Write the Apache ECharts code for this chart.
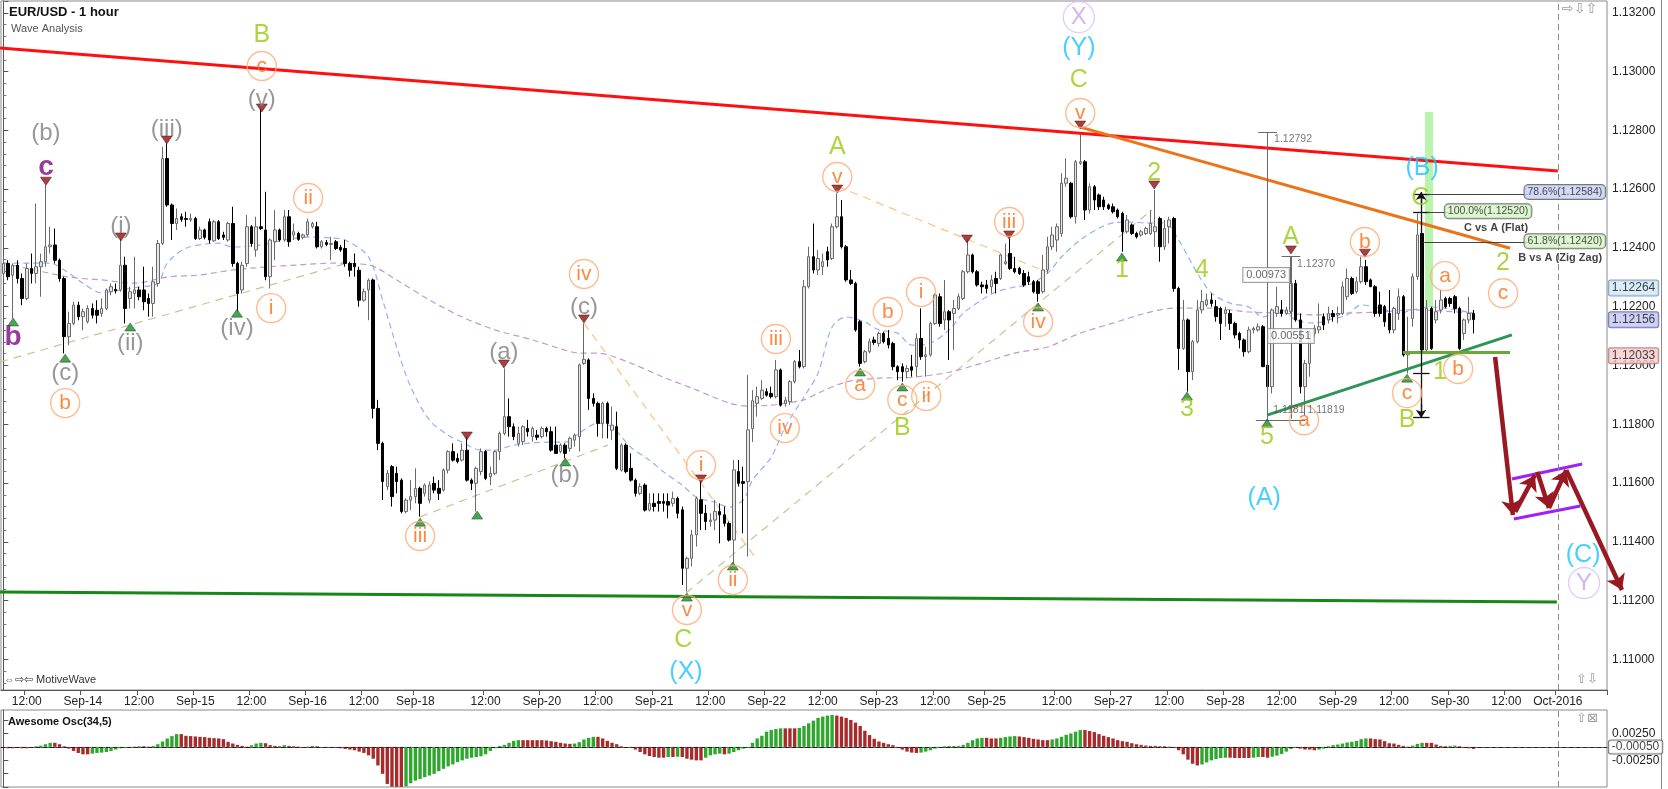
<!DOCTYPE html>
<html><head><meta charset="utf-8">
<script src="https://cdn.jsdelivr.net/npm/echarts/dist/echarts.min.js"></script>
<style>html,body{margin:0;padding:0;background:#fff}#c{width:1668px;height:789px}</style>
</head><body><div id="c"></div>
<script>
// ---------- time axis ----------
const sessions = [['09-13',7,23],['09-14',0,23],['09-15',0,23],['09-16',0,22],['09-18',21,23],['09-19',0,23],['09-20',0,23],['09-21',0,23],['09-22',0,23],['09-23',0,22],['09-25',21,23],['09-26',0,23],['09-27',0,23],['09-28',0,23],['09-29',0,23],['09-30',0,22],['10-02',21,23],['10-03',0,7]];
const tickLabels = [['09-13 12','12:00'],['09-14 00','Sep-14'],['09-14 12','12:00'],['09-15 00','Sep-15'],['09-15 12','12:00'],['09-16 00','Sep-16'],['09-16 12','12:00'],['09-18 21','Sep-18'],['09-19 12','12:00'],['09-20 00','Sep-20'],['09-20 12','12:00'],['09-21 00','Sep-21'],['09-21 12','12:00'],['09-22 00','Sep-22'],['09-22 12','12:00'],['09-23 00','Sep-23'],['09-23 12','12:00'],['09-25 21','Sep-25'],['09-26 12','12:00'],['09-27 00','Sep-27'],['09-27 12','12:00'],['09-28 00','Sep-28'],['09-28 12','12:00'],['09-29 00','Sep-29'],['09-29 12','12:00'],['09-30 00','Sep-30'],['09-30 12','12:00'],['10-02 21','Oct-2016']];

// ---------- EUR/USD hourly candles [open, close, low, high] ----------
const candles = [
[1.12313,1.12347,1.12296,1.12370],[1.12347,1.12302,1.12290,1.12358],[1.12307,1.12341,1.12160,1.12347],[1.12341,1.12296,1.12279,1.12358],[1.12296,1.12228,1.12205,1.12313],
[1.12228,1.12330,1.12222,1.12347],[1.12330,1.12313,1.12279,1.12381],[1.12313,1.12336,1.12279,1.12551],[1.12336,1.12353,1.12234,1.12381],[1.12353,1.12404,1.12336,1.12614],
[1.12404,1.12410,1.12381,1.12472],[1.12410,1.12358,1.12347,1.12466],[1.12358,1.12296,1.12285,1.12364],[1.12296,1.12098,1.12041,1.12302],[1.12098,1.12143,1.12069,1.12183],
[1.12143,1.12205,1.12137,1.12217],[1.12205,1.12166,1.12154,1.12217],[1.12166,1.12183,1.12120,1.12194],[1.12149,1.12194,1.12143,1.12205],[1.12194,1.12171,1.12160,1.12211],
[1.12188,1.12171,1.12143,1.12222],[1.12177,1.12194,1.12166,1.12228],[1.12194,1.12257,1.12188,1.12262],[1.12251,1.12268,1.12239,1.12279],[1.12259,1.12254,1.12245,1.12279],
[1.12257,1.12341,1.12251,1.12432],[1.12341,1.12194,1.12143,1.12370],[1.12228,1.12251,1.12194,1.12268],[1.12245,1.12257,1.12194,1.12370],[1.12257,1.12234,1.12222,1.12268],
[1.12257,1.12217,1.12188,1.12336],[1.12228,1.12211,1.12166,1.12245],[1.12211,1.12285,1.12166,1.12336],[1.12279,1.12415,1.12268,1.12427],[1.12415,1.12704,1.12410,1.12744],
[1.12704,1.12546,1.12540,1.12755],[1.12546,1.12483,1.12427,1.12551],[1.12483,1.12500,1.12461,1.12534],[1.12506,1.12497,1.12489,1.12517],[1.12500,1.12497,1.12472,1.12523],
[1.12495,1.12500,1.12489,1.12517],[1.12500,1.12432,1.12427,1.12506],[1.12432,1.12461,1.12427,1.12472],[1.12461,1.12436,1.12429,1.12466],[1.12489,1.12427,1.12415,1.12500],
[1.12424,1.12489,1.12421,1.12495],[1.12489,1.12432,1.12427,1.12495],[1.12444,1.12436,1.12427,1.12455],[1.12427,1.12483,1.12421,1.12489],[1.12483,1.12347,1.12336,1.12540],
[1.12347,1.12245,1.12183,1.12353],[1.12257,1.12341,1.12245,1.12353],[1.12347,1.12472,1.12336,1.12512],[1.12472,1.12415,1.12404,1.12478],[1.12393,1.12472,1.12370,1.12506],
[1.12472,1.12466,1.12461,1.12874],[1.12461,1.12302,1.12290,1.12591],[1.12302,1.12427,1.12262,1.12432],[1.12421,1.12461,1.12358,1.12529],[1.12461,1.12427,1.12421,1.12466],
[1.12427,1.12506,1.12421,1.12529],[1.12506,1.12421,1.12404,1.12529],[1.12444,1.12455,1.12427,1.12483],[1.12449,1.12429,1.12424,1.12455],[1.12436,1.12444,1.12429,1.12449],
[1.12444,1.12489,1.12438,1.12500],[1.12472,1.12483,1.12466,1.12489],[1.12472,1.12404,1.12398,1.12489],[1.12404,1.12421,1.12398,1.12427],[1.12418,1.12412,1.12406,1.12427],
[1.12412,1.12415,1.12358,1.12438],[1.12421,1.12398,1.12393,1.12427],[1.12402,1.12393,1.12387,1.12410],[1.12398,1.12347,1.12336,1.12427],[1.12347,1.12324,1.12302,1.12353],
[1.12347,1.12336,1.12302,1.12381],[1.12324,1.12222,1.12200,1.12336],[1.12222,1.12251,1.12217,1.12262],[1.12257,1.12290,1.12154,1.12296],
[1.12291,1.11854,1.11820,1.12296],[1.11854,1.11735,1.11712,1.11883],[1.11735,1.11605,1.11542,1.11741],[1.11588,1.11633,1.11576,1.11644],[1.11656,1.11554,1.11520,1.11661],
[1.11633,1.11605,1.11565,1.11656],[1.11610,1.11503,1.11497,1.11616],[1.11503,1.11542,1.11497,1.11548],[1.11542,1.11554,1.11508,1.11610],[1.11554,1.11582,1.11531,1.11650],
[1.11582,1.11531,1.11486,1.11588],[1.11565,1.11593,1.11554,1.11599],[1.11542,1.11593,1.11531,1.11605],[1.11599,1.11576,1.11565,1.11622],[1.11582,1.11565,1.11542,1.11610],
[1.11576,1.11644,1.11571,1.11650],[1.11644,1.11707,1.11633,1.11712],[1.11707,1.11678,1.11673,1.11735],[1.11684,1.11673,1.11667,1.11701],[1.11678,1.11712,1.11673,1.11735],
[1.11712,1.11610,1.11605,1.11758],[1.11610,1.11599,1.11576,1.11616],[1.11599,1.11650,1.11503,1.11656],[1.11639,1.11707,1.11627,1.11718],[1.11707,1.11616,1.11610,1.11712],
[1.11622,1.11633,1.11593,1.11656],[1.11633,1.11707,1.11627,1.11712],[1.11707,1.11769,1.11678,1.11775],[1.11769,1.11826,1.11763,1.11990],[1.11826,1.11792,1.11758,1.11888],
[1.11792,1.11758,1.11746,1.11803],[1.11735,1.11769,1.11724,1.11792],[1.11741,1.11792,1.11729,1.11797],[1.11786,1.11775,1.11758,1.11815],[1.11758,1.11786,1.11741,1.11792],
[1.11763,1.11756,1.11746,1.11780],[1.11758,1.11786,1.11752,1.11792],[1.11786,1.11775,1.11758,1.11792],[1.11775,1.11712,1.11707,1.11792],[1.11729,1.11701,1.11701,1.11792],
[1.11707,1.11729,1.11701,1.11735],[1.11729,1.11701,1.11684,1.11735],[1.11718,1.11752,1.11707,1.11758],[1.11746,1.11763,1.11724,1.11769],[1.11758,1.12002,1.11707,1.12007],
[1.12007,1.12021,1.12002,1.12143],[1.12019,1.11888,1.11849,1.12024],[1.11888,1.11871,1.11860,1.11905],[1.11871,1.11803,1.11758,1.11877],[1.11803,1.11871,1.11752,1.11877],
[1.11871,1.11803,1.11752,1.11877],[1.11780,1.11797,1.11746,1.11860],[1.11792,1.11650,1.11644,1.11843],[1.11644,1.11729,1.11639,1.11735],[1.11729,1.11639,1.11633,1.11735],
[1.11650,1.11610,1.11605,1.11701],[1.11610,1.11565,1.11554,1.11616],[1.11565,1.11588,1.11559,1.11599],[1.11593,1.11508,1.11503,1.11599],[1.11508,1.11531,1.11503,1.11565],
[1.11531,1.11520,1.11503,1.11565],[1.11537,1.11531,1.11503,1.11565],[1.11537,1.11531,1.11503,1.11565],[1.11537,1.11525,1.11480,1.11565],[1.11531,1.11548,1.11520,1.11571],[1.11548,1.11497,1.11480,1.11554],
[1.11509,1.11310,1.11253,1.11520],[1.11310,1.11344,1.11231,1.11350],[1.11344,1.11424,1.11316,1.11441],[1.11424,1.11548,1.11384,1.11554],[1.11543,1.11497,1.11440,1.11605],
[1.11497,1.11469,1.11440,1.11526],[1.11469,1.11474,1.11452,1.11497],[1.11474,1.11503,1.11440,1.11543],[1.11503,1.11492,1.11395,1.11531],[1.11492,1.11463,1.11452,1.11520],
[1.11463,1.11406,1.11401,1.11469],[1.11406,1.11645,1.11327,1.11679],[1.11639,1.11599,1.11588,1.11679],[1.11605,1.11599,1.11429,1.11656],[1.11605,1.11781,1.11350,1.11968],
[1.11785,1.11880,1.11740,1.11916],[1.11871,1.11894,1.11826,1.11928],[1.11888,1.11916,1.11882,1.11950],[1.11911,1.11899,1.11894,1.11922],[1.11905,1.11894,1.11888,1.11928],
[1.11894,1.11985,1.11888,1.12019],[1.11985,1.11865,1.11860,1.11990],[1.11871,1.11882,1.11860,1.11894],[1.11877,1.11945,1.11865,1.11950],[1.11945,1.12013,1.11939,1.12019],
[1.12013,1.11996,1.11990,1.12053],[1.11996,1.12268,1.11990,1.12291],[1.12268,1.12370,1.12262,1.12404],[1.12370,1.12325,1.12313,1.12483],[1.12325,1.12364,1.12308,1.12393],
[1.12336,1.12353,1.12308,1.12381],[1.12387,1.12359,1.12336,1.12404],[1.12364,1.12472,1.12359,1.12483],[1.12472,1.12506,1.12466,1.12585],[1.12506,1.12404,1.12398,1.12563],
[1.12404,1.12291,1.12285,1.12410],[1.12291,1.12279,1.12274,1.12325],[1.12279,1.12121,1.12115,1.12285],[1.12149,1.12007,1.11996,1.12155],[1.12013,1.12047,1.12007,1.12053],
[1.12047,1.12081,1.12041,1.12092],[1.12087,1.12078,1.12070,1.12098],[1.12075,1.12109,1.12064,1.12115],[1.12109,1.12081,1.12075,1.12115],[1.12092,1.12070,1.12058,1.12121],
[1.12075,1.11996,1.11984,1.12081],[1.11996,1.11979,1.11950,1.12001],[1.11996,1.11979,1.11945,1.12007],[1.11979,1.11990,1.11956,1.12001],[1.11996,1.11984,1.11962,1.12036],
[1.11996,1.12092,1.11962,1.12109],[1.12092,1.12030,1.12019,1.12194],[1.12030,1.12036,1.11962,1.12064],[1.12036,1.12143,1.12030,1.12149],[1.12143,1.12240,1.12138,1.12245],
[1.12234,1.12143,1.12132,1.12245],[1.12155,1.12183,1.12121,1.12291],[1.12183,1.12155,1.12019,1.12189],[1.12177,1.12194,1.12053,1.12223],[1.12194,1.12234,1.12189,1.12245],
[1.12228,1.12319,1.12223,1.12325],[1.12319,1.12376,1.12313,1.12427],[1.12376,1.12319,1.12313,1.12381],[1.12319,1.12274,1.12268,1.12325],[1.12274,1.12268,1.12245,1.12285],
[1.12274,1.12262,1.12245,1.12291],[1.12268,1.12291,1.12245,1.12308],[1.12296,1.12279,1.12245,1.12319],[1.12296,1.12376,1.12291,1.12381],[1.12347,1.12353,1.12342,1.12415],
[1.12381,1.12330,1.12325,1.12432],[1.12330,1.12319,1.12313,1.12370],[1.12330,1.12313,1.12308,1.12336],[1.12313,1.12274,1.12268,1.12325],[1.12302,1.12285,1.12274,1.12319],
[1.12285,1.12251,1.12245,1.12291],[1.12285,1.12245,1.12217,1.12291],[1.12251,1.12325,1.12245,1.12376],[1.12325,1.12404,1.12313,1.12438],[1.12404,1.12444,1.12393,1.12472],
[1.12427,1.12472,1.12387,1.12483],[1.12449,1.12620,1.12438,1.12654],[1.12620,1.12637,1.12608,1.12705],[1.12620,1.12506,1.12500,1.12625],[1.12506,1.12693,1.12483,1.12699],
[1.12688,1.12693,1.12682,1.12792],
[1.12693,1.12529,1.12495,1.12699],[1.12529,1.12608,1.12517,1.12620],[1.12608,1.12563,1.12529,1.12614],[1.12580,1.12540,1.12529,1.12585],[1.12563,1.12540,1.12529,1.12574],
[1.12546,1.12534,1.12529,1.12551],[1.12540,1.12523,1.12517,1.12551],[1.12529,1.12506,1.12500,1.12534],[1.12517,1.12455,1.12387,1.12523],[1.12455,1.12495,1.12449,1.12512],
[1.12478,1.12449,1.12444,1.12483],[1.12449,1.12438,1.12432,1.12455],[1.12444,1.12455,1.12438,1.12461],[1.12449,1.12466,1.12444,1.12472],[1.12449,1.12483,1.12444,1.12529],
[1.12455,1.12472,1.12404,1.12597],[1.12500,1.12404,1.12353,1.12506],[1.12404,1.12466,1.12393,1.12495],[1.12472,1.12495,1.12415,1.12506],[1.12500,1.12262,1.12251,1.12506],
[1.12262,1.12058,1.11985,1.12268],[1.12058,1.12155,1.12053,1.12223],[1.12155,1.11979,1.11911,1.12160],[1.11979,1.12081,1.11950,1.12087],[1.12081,1.12189,1.12075,1.12223],
[1.12189,1.12217,1.12177,1.12257],[1.12206,1.12223,1.12200,1.12245],[1.12223,1.12211,1.12200,1.12245],[1.12200,1.12166,1.12149,1.12223],[1.12194,1.12143,1.12087,1.12200],
[1.12177,1.12189,1.12132,1.12200],[1.12177,1.12143,1.12121,1.12189],[1.12143,1.12104,1.12092,1.12149],[1.12109,1.12087,1.12058,1.12115],[1.12087,1.12047,1.12030,1.12092],
[1.12047,1.12121,1.12041,1.12132],[1.12121,1.12126,1.12109,1.12132],[1.12121,1.12132,1.12115,1.12143],[1.12132,1.11996,1.11996,1.12138],[1.12001,1.11928,1.11814,1.12007],
[1.11928,1.12189,1.11905,1.12194],[1.12177,1.12200,1.12166,1.12268],[1.12189,1.12177,1.12166,1.12223],[1.12177,1.12189,1.12172,1.12200],[1.12183,1.12279,1.12177,1.12370],
[1.12279,1.12155,1.12149,1.12291],[1.12155,1.11928,1.11905,1.12177],[1.11928,1.12007,1.11831,1.12019],[1.12007,1.12109,1.11962,1.12121],[1.12109,1.12126,1.12098,1.12138],
[1.12121,1.12132,1.12109,1.12211],[1.12166,1.12138,1.12121,1.12177],[1.12155,1.12177,1.12143,1.12200],[1.12177,1.12166,1.12149,1.12189],[1.12172,1.12177,1.12143,1.12200],
[1.12177,1.12268,1.12172,1.12285],[1.12234,1.12296,1.12223,1.12330],[1.12296,1.12245,1.12240,1.12302],[1.12251,1.12285,1.12245,1.12302],[1.12285,1.12336,1.12279,1.12370],
[1.12336,1.12285,1.12274,1.12359],[1.12291,1.12268,1.12268,1.12296],[1.12268,1.12177,1.12166,1.12274],[1.12206,1.12177,1.12166,1.12251],[1.12200,1.12149,1.12132,1.12206],
[1.12177,1.12121,1.12109,1.12257],[1.12121,1.12194,1.12109,1.12200],[1.12177,1.12234,1.12155,1.12262],[1.12234,1.12036,1.12030,1.12240],[1.12036,1.12041,1.11973,1.12166],
[1.12160,1.12302,1.12132,1.12313],[1.12302,1.12444,1.12291,1.12517],[1.12449,1.12053,1.12047,1.12523],[1.12053,1.12194,1.12047,1.12223],[1.12194,1.12058,1.12053,1.12200],
[1.12155,1.12183,1.12143,1.12223],[1.12189,1.12223,1.12177,1.12257],[1.12228,1.12200,1.12194,1.12234],[1.12228,1.12211,1.12200,1.12234],[1.12234,1.12194,1.12177,1.12240],
[1.12194,1.12058,1.12053,1.12200],[1.12109,1.12155,1.12087,1.12160],[1.12155,1.12177,1.12143,1.12234],[1.12177,1.12156,1.12109,1.12189]
];

// ---------- Awesome Oscillator (34,5), values in 1e-5 ----------
const aoValues = [
-19,-25,-25,-19,-25,-25,-19, 13,25, 50,76,76,50, 13,
-32,-76,-113,-139,-139,-126,-113,-107,-95,-76,-50,-25,
-13,-6,6,13,13,6, 19,50,101,158,202,239,239,
208,202,195,189,183,170,164,158,145,95,63,38,19,6,
32,63,76,69,32,19, 13,32,19,13,6,0,6,19,13,0,-6,
-19,-19,-25,-38,-50,-63,-88,-113, -158,-221,-347,-504,-693,-743,-748,-748,
-737,-680,-630,-599,-567,-536,-504,-454,-410,-365,-328,-284,-252,-221,-202,-189,-176,-139,-76,-25,
19,38,76,113,126,126,126, 126,126,126,120,107,95,76,63,57,63,
88,139,170,189,189,158,113,76,50,13,
0,-19,-50,-95,-139,-170,-189,-202,-202,-189,-189,-183,-189,-221,-239,-252,-252,-202,-158,-139,-126,-139,-126,-95,-63,-32,0,
76,158,208,284,315,334,347,347,347,347,353,391,441,491,542,567,586,599,586,567,542,504,454,391,302,221,151,101,76,50,32,
-13,-50,-88,-107,-113,-107,-88,-63,-32,-13,
13,19,13,19,38,76,126,158,170,170,158,158,170,183,195,202,195,183,170,151,139,126,126,
139,158,189,227,252,284,315,315,296,277,239,208,183,158,126,107,95,69,50,38,25,19,19,13,13,6,
-13,-63,-139,-239,-315,-347,-328,-290,-252,-227,-208,-202,-202,-208,-208,-208,-208,-202,-189,-189,-202,-183,-164,-132,-88,-38,-13,
-32,-50,-50,-63,-50,-32,
13,32,44,63,82,95,113,145,158,158,145,139,107,69,63,38,19,6,
25,57,76,76,76,44,19,13,19,25,13,-19,-25,-38
];

// ---------- moving averages [bar, price] ----------
const maFast = [[0,1.12348],[6,1.12348],[10,1.12348],[13,1.12325],[17,1.12280],[21,1.12247],[25,1.12257],[29,1.12267],[33,1.12280],[35,1.12348],[39,1.12399],[46,1.12416],[49,1.12403],[55,1.12410],[60,1.12427],[65,1.12437],[70,1.12434],[73,1.12427],[78,1.12369],[81,1.12223],[84,1.12063],[87,1.11927],[91,1.11814],[95,1.11763],[98,1.11739],[102,1.11712],[105,1.11712],[109,1.11729],[116,1.11739],[120,1.11739],[123,1.11770],[127,1.11804],[130,1.11791],[134,1.11722],[138,1.11678],[141,1.11638],[145,1.11593],[148,1.11552],[152,1.11535],[155,1.11518],[158,1.11542],[160,1.11610],[164,1.11688],[167,1.11791],[171,1.11893],[174,1.11974],[177,1.12131],[180,1.12165],[184,1.12148],[187,1.12121],[191,1.12110],[194,1.12069],[198,1.12076],[202,1.12121],[205,1.12178],[209,1.12223],[212,1.12250],[216,1.12267],[219,1.12274],[223,1.12314],[226,1.12369],[230,1.12427],[234,1.12467],[237,1.12485],[241,1.12488],[244,1.12485],[248,1.12485],[251,1.12427],[255,1.12314],[258,1.12247],[262,1.12212],[266,1.12199],[269,1.12165],[273,1.12189],[276,1.12155],[280,1.12144],[283,1.12155],[287,1.12172],[290,1.12206],[294,1.12195],[298,1.12178],[301,1.12189],[305,1.12199],[308,1.12195],[314,1.12178]];
const maSlow = [[0,1.12348],[14,1.12301],[21,1.12291],[28,1.12280],[35,1.12301],[42,1.12308],[49,1.12325],[56,1.12335],[63,1.12342],[70,1.12348],[78,1.12342],[84,1.12291],[91,1.12223],[98,1.12165],[105,1.12121],[113,1.12087],[120,1.12052],[123,1.12042],[127,1.12042],[134,1.12008],[141,1.11960],[148,1.11917],[155,1.11872],[159,1.11862],[164,1.11865],[167,1.11872],[171,1.11883],[174,1.11906],[180,1.11944],[187,1.11957],[194,1.11960],[202,1.11977],[209,1.12008],[216,1.12042],[223,1.12063],[230,1.12110],[237,1.12144],[244,1.12178],[250,1.12195],[258,1.12195],[266,1.12182],[273,1.12178],[280,1.12172],[287,1.12178],[294,1.12182],[301,1.12189],[314,1.12178]];

// ---------- drawn trend lines [bar, price] ----------
const redLine = [[[-0.7,1.13080],[332,1.12662]]];
const greenBaseLine = [[[-0.7,1.11229],[331.8,1.11195]]];
const orangeLine = [[[230,1.12811],[321.8,1.12399]]];
const greenTrendLine = [[[269.9,1.11831],[322.2,1.12104]]];
const greenFlatLine = [[[298.9,1.12046],[321.8,1.12046]]];
const purpleChannel = [[[322.2,1.11614],[337.2,1.11665]],[[322.6,1.11478],[336.8,1.11522]]];
const forecastArrows = [[[318.6,1.12029],[322.4,1.11491]],[[322.9,1.11502],[327.1,1.11627]],[[327.6,1.11638],[330.1,1.11515]],[[330.1,1.11515],[333.8,1.11644]],[[333.8,1.11644],[345.7,1.11236]]];
const greenBand = [[[304.5,1.12862],[304.5,1.12199]]];
const tanLines = [[[-0.7,1.12012],[73.4,1.12348]],[[89,1.11485],[129.1,1.11729]],[[145.8,1.11226],[245.3,1.12529]]];
const peachLines = [[[124,1.12144],[161,1.11338]],[[178.1,1.12610],[222.9,1.12318]]];
const measureGray = [[[269.9,1.12792],[269.9,1.11811]],[[268,1.12792],[272,1.12792]],[[275,1.12370],[275,1.11819]],[[273,1.12370],[277,1.12370]],[[267.5,1.11815],[278,1.11815]]];
const measureBlack = [[[302.8,1.12584],[302.8,1.11825]],[[301.1,1.12584],[304.6,1.12584]],[[301.1,1.12520],[304.6,1.12520]],[[301.1,1.11974],[304.6,1.11974]],[[301.1,1.11825],[304.6,1.11825]]];
const measureArrows = [[[302.8,1.12545],[302.8,1.12590]],[[302.8,1.11870],[302.8,1.11822]]];
const fibLines = [[[304.1,1.12584],[325.7,1.12584]],[[304.1,1.12520],[308.6,1.12520]],[[303.2,1.12420],[325.7,1.12420]]];

// ---------- wave labels [bar, price, text] ----------
const waveOrange = [[55.2,1.13019,'c'],[13.2,1.11872,'b'],[65.1,1.12570,'ii'],[57.2,1.12195,'i'],[124.0,1.12311,'iv'],[89.0,1.11420,'iii'],[149.0,1.11661,'i'],[146.0,1.11168,'v'],[155.8,1.11270,'ii'],[165.0,1.12090,'iii'],[166.9,1.11787,'iv'],[178.1,1.12641,'v'],[183.0,1.11934,'a'],[188.9,1.12182,'b'],[192.0,1.11883,'c'],[197.1,1.11896,'ii'],[196.0,1.12250,'i'],[214.8,1.12488,'iii'],[221.0,1.12148,'iv'],[230.0,1.12859,'v'],[277.8,1.11814,'a'],[290.8,1.12420,'b'],[299.8,1.11906,'c'],[307.9,1.12304,'a'],[310.7,1.11988,'b'],[320.3,1.12246,'c']];
const waveGray = [[9.1,1.12791,'(b)'],[34.9,1.12804,'(iii)'],[25.1,1.12474,'(i)'],[27.1,1.12076,'(ii)'],[49.9,1.12127,'(iv)'],[13.2,1.11974,'(c)'],[55.2,1.12906,'(v)'],[124.0,1.12199,'(c)'],[106.9,1.12046,'(a)'],[120.0,1.11627,'(b)']];
const waveGreen = [[55.2,1.13124,'B'],[145.2,1.11066,'C'],[178.1,1.12743,'A'],[192.0,1.11787,'B'],[229.7,1.12971,'C'],[245.8,1.12655,'2'],[238.9,1.12325,'1'],[256.0,1.12325,'4'],[252.8,1.11852,'3'],[269.9,1.11757,'5'],[275.0,1.12437,'A'],[299.8,1.11814,'B'],[302.6,1.12570,'C'],[306.8,1.11978,'1'],[320.3,1.12348,'2']];
const waveCyan = [[145.8,1.10957,'(X)'],[229.7,1.13080,'(Y)'],[269.3,1.11549,'(A)'],[303.0,1.12672,'(B)'],[337.4,1.11355,'(C)']];
const wavePurple = [[9.1,1.12675,'c'],[2.1,1.12097,'b']];
const waveLavender = [[229.7,1.13185,'X'],[337.6,1.11260,'Y']];
const lowMarks = [[2.1,1.12148],[27.1,1.12131],[49.9,1.12178],[13.2,1.12025],[101.2,1.11491],[120.0,1.11672],[89.0,1.11467],[146.0,1.11212],[155.8,1.11318],[183.0,1.11978],[192.0,1.11927],[221.0,1.12199],[238.9,1.12369],[252.8,1.11896],[269.9,1.11804],[299.8,1.11957]];
const highMarks = [[55.2,1.12876],[9.1,1.12627],[34.9,1.12767],[25.1,1.12437],[124.0,1.12158],[106.9,1.12005],[99.0,1.11760],[149.0,1.11614],[178.1,1.12600],[205.8,1.12430],[214.8,1.12444],[230.0,1.12818],[245.8,1.12614],[275.0,1.12393],[290.8,1.12382]];
const measureTexts = [[271.4,1.12770,'1.12792'],[276.3,1.12345,'1.12370'],[271.2,1.11848,'1.1181 1.11819']];
const measureBoxes = [[269.7,1.12308,'0.00973'],[275.0,1.12100,'0.00551']];
const fibBoxes = [[333.5,1.12590,'78.6%(1.12584)','#c9cff6'],[317.1,1.12525,'100.0%(1.12520)','#d6f5c6'],[333.5,1.12423,'61.8%(1.12420)','#d6f5c6']];
const fibNotes = [[318.8,1.12468,'C vs A (Flat)'],[332.5,1.12366,'B vs A (Zig Zag)']];
const priceTags = [[1.12264,'#d2e9f8','#6d8fb0'],[1.12033,'#f8cccc','#b06a6a'],[1.12156,'#c6c6f2','#5a5aa8']];
const oscTag = -0.0005;

// ---------- build ----------
const categories = [];
sessions.forEach(([d,a,b]) => { for (let h = a; h <= b; h++) categories.push(d + ' ' + String(h).padStart(2,'0')); });
const tickMap = Object.fromEntries(tickLabels);
const lastBar = categories.indexOf('10-02 21');
const tagBar = categories.length - 0.1;   // just right of the price-axis line
const FONT = '"Liberation Sans", Arial, sans-serif';

function lines(segs, style, extra) {
  return Object.assign({type:'lines', coordinateSystem:'cartesian2d', xAxisIndex:1, yAxisIndex:0, polyline:false, clip:false, silent:true, symbol:'none',
    lineStyle:Object.assign({opacity:1, curveness:0}, style), data:segs.map(s => ({coords:s})), z:4}, extra || {});
}
function textScatter(data, color, size, extra) {
  return Object.assign({type:'scatter', xAxisIndex:1, yAxisIndex:0, clip:false, silent:true, symbol:'circle', symbolSize:1,
    itemStyle:{color:'rgba(0,0,0,0)'}, data:data,
    label:{show:true, position:'inside', formatter:p => p.value[2], color:color, fontSize:size, fontFamily:FONT}, z:6}, extra || {});
}
const tagLabelBase = {show:true, position:'inside', align:'left', formatter:p => p.value[2], color:'#111', fontSize:12, fontFamily:FONT, borderWidth:1, borderRadius:2, padding:[2,3,1,3]};

const chart = echarts.init(document.getElementById('c'));
const option = {
  animation:false,
  backgroundColor:'#ffffff',
  textStyle:{fontFamily:FONT},
  grid:[
    {left:1, top:1, width:1606, height:689, show:true, borderColor:'#8a8a8a', borderWidth:1, outerBoundsMode:'none'},
    {left:1, top:710, width:1606, height:77, show:true, borderColor:'#8a8a8a', borderWidth:1, outerBoundsMode:'none'}
  ],
  xAxis:[
    {type:'category', gridIndex:0, data:categories, boundaryGap:true,
      axisLine:{lineStyle:{color:'#555'}},
      axisTick:{show:true, length:5, interval:(i,v) => tickMap[v] !== undefined, lineStyle:{color:'#555'}},
      axisLabel:{interval:(i,v) => tickMap[v] !== undefined, formatter:v => tickMap[v] || '', color:'#222', fontSize:12, margin:6, fontFamily:FONT},
      splitLine:{show:false}},
    {type:'value', gridIndex:0, min:-0.5, max:categories.length - 0.5, show:false},
    {type:'category', gridIndex:1, data:categories, boundaryGap:true, axisLine:{show:true, lineStyle:{color:'#555'}}, axisTick:{show:false}, axisLabel:{show:false}, splitLine:{show:false}},
    {type:'value', gridIndex:1, min:-0.5, max:categories.length - 0.5, show:false}
  ],
  yAxis:[
    {type:'value', gridIndex:0, position:'right', min:1.10896, max:1.13240, splitNumber:12,
      axisLine:{show:true, lineStyle:{color:'#555'}}, axisTick:{show:true, length:5, lineStyle:{color:'#555'}},
      minorTick:{show:true, splitNumber:5, length:3, lineStyle:{color:'#777'}},
      axisLabel:{formatter:v => v.toFixed(5), color:'#222', fontSize:12, margin:5, fontFamily:FONT, showMinLabel:false, showMaxLabel:false},
      splitLine:{show:false}},
    {type:'value', gridIndex:1, position:'right', min:-0.0075, max:0.0069, interval:0.0025,
      axisLine:{show:true, lineStyle:{color:'#555'}}, axisTick:{show:true, length:5, lineStyle:{color:'#555'}},
      axisLabel:{formatter:v => (Math.abs(Math.abs(v) - 0.0025) < 1e-9 ? v.toFixed(5) : ''), color:'#222', fontSize:12, margin:5, fontFamily:FONT, showMaxLabel:false, hideOverlap:false},
      splitLine:{show:false}}
  ],
  series:[
    {type:'line', xAxisIndex:1, yAxisIndex:0, data:maSlow, smooth:0.3, showSymbol:false, silent:true, clip:false,
      lineStyle:{color:'#c995d3', width:1.2, type:[6,4]}, z:2,
      markLine:{silent:true, symbol:'none', animation:false,
        data:[{xAxis:lastBar, lineStyle:{color:'#8a8a8a', width:1, type:[6,4]}, label:{show:false}}]}},
    {type:'line', xAxisIndex:1, yAxisIndex:0, data:maFast, smooth:0.3, showSymbol:false, silent:true, clip:false,
      lineStyle:{color:'#93b1f5', width:1.2, type:[6,4]}, z:2},
    lines(tanLines, {color:'#c9c494', width:1.2, type:[8,6]}, {z:2}),
    lines(peachLines, {color:'#ffc283', width:1.2, type:[8,6]}, {z:2}),
    {type:'candlestick', xAxisIndex:0, yAxisIndex:0, data:candles, barWidth:3, silent:true,
      itemStyle:{color:'#e6e6e6', color0:'#000000', borderColor:'#6a6a6a', borderColor0:'#000000', borderWidth:1}, z:3},
    lines(greenBand, {color:'rgba(140,235,120,0.6)', width:8}, {z:3}),
    lines(redLine, {color:'#ff1010', width:3}),
    lines(greenBaseLine, {color:'#178717', width:3}),
    lines(orangeLine, {color:'#ec7418', width:3}),
    lines(greenTrendLine, {color:'#2f9457', width:3}),
    lines(greenFlatLine, {color:'#68a834', width:3}),
    lines(purpleChannel, {color:'#a020f5', width:3}),
    lines(forecastArrows, {color:'#9a1822', width:4.5}, {symbol:['none','arrow'], symbolSize:15, z:5}),
    lines(measureGray, {color:'#6a6a6a', width:1}),
    lines(measureBlack, {color:'#111', width:1.3}),
    lines(measureArrows, {color:'#111', width:1.3}, {symbol:['none','arrow'], symbolSize:8}),
    lines(fibLines, {color:'#444', width:1}),
    {type:'scatter', xAxisIndex:1, yAxisIndex:0, data:lowMarks, symbol:'triangle', symbolSize:[11,8], silent:true, clip:false,
      itemStyle:{color:'#1f8a2a', borderColor:'#0d4d12', borderWidth:0.6}, z:6},
    {type:'scatter', xAxisIndex:1, yAxisIndex:0, data:highMarks, symbol:'triangle', symbolRotate:180, symbolSize:[11,8], silent:true, clip:false,
      itemStyle:{color:'#8e1212', borderColor:'#4d0a0a', borderWidth:0.6}, z:6},
    textScatter(waveOrange, '#ff6a10', 21, {symbolSize:29, itemStyle:{color:'rgba(255,255,255,0)', borderColor:'#ffaa72', borderWidth:1.4}}),
    textScatter(waveLavender, '#c8a2f2', 24, {symbolSize:31, itemStyle:{color:'rgba(255,255,255,0)', borderColor:'#dcc0f6', borderWidth:1.4}}),
    textScatter(waveGray, '#7d7d7d', 24),
    textScatter(waveGreen, '#9acb10', 25),
    textScatter(waveCyan, '#19c3ff', 25),
    textScatter(wavePurple, '#7d0a84', 28, {label:{show:true, position:'inside', formatter:p => p.value[2], color:'#7d0a84', fontSize:28, fontWeight:'bold', fontFamily:FONT}}),
    textScatter(measureTexts, '#555', 10.5, {label:{show:true, position:'inside', align:'left', formatter:p => p.value[2], color:'#555', fontSize:10.5, fontFamily:FONT}}),
    textScatter(measureBoxes, '#444', 11, {label:{show:true, position:'inside', formatter:p => p.value[2], color:'#444', fontSize:11, fontFamily:FONT, backgroundColor:'#fff', borderColor:'#8a8a8a', borderWidth:1, padding:[2,3,1,3]}}),
    textScatter(fibBoxes.map(b => ({value:[b[0],b[1],b[2]], label:{backgroundColor:b[3]}})), '#222', 10.5,
      {label:{show:true, position:'inside', formatter:p => p.value[2], color:'#222', fontSize:10.5, fontFamily:FONT, borderColor:'#555', borderWidth:1, borderRadius:4, padding:[2,3,1,3]}}),
    textScatter(fibNotes, '#111', 11, {label:{show:true, position:'inside', formatter:p => p.value[2], color:'#111', fontSize:11, fontWeight:'bold', fontFamily:FONT}}),
    // right-axis value tags
    textScatter(priceTags.map(t => ({value:[tagBar, t[0], t[0].toFixed(5)], label:{backgroundColor:t[1], borderColor:t[2]}})), '#111', 12,
      {label:tagLabelBase, z:9}),
    {type:'scatter', xAxisIndex:3, yAxisIndex:1, clip:false, silent:true, symbolSize:1, itemStyle:{color:'rgba(0,0,0,0)'}, z:9,
      data:[[tagBar, 0, oscTag.toFixed(5)]],
      label:Object.assign({}, tagLabelBase, {backgroundColor:'#ffffff', borderColor:'#555', padding:[1,3,0,3]})},
    // Awesome oscillator
    {type:'bar', xAxisIndex:2, yAxisIndex:1, barWidth:'72%', silent:true,
      data:aoValues.map((v,i) => ({value:v / 1e5, itemStyle:{color:(i > 0 && v > aoValues[i-1]) ? '#2da82d' : '#a82b2b'}})),
      markLine:{silent:true, symbol:'none', animation:false, data:[
        {yAxis:0, lineStyle:{color:'#222', width:1, type:[4,3]}, label:{show:false}},
        {xAxis:lastBar, lineStyle:{color:'#8a8a8a', width:1, type:[6,4]}, label:{show:false}}
      ]}}
  ],
  graphic:[
    {type:'text', left:9, top:6, style:{text:'EUR/USD - 1 hour', fill:'#111', font:'bold 13px ' + FONT}},
    {type:'text', left:11, top:23, style:{text:'Wave Analysis', fill:'#555', font:'11px ' + FONT}},
    {type:'text', left:4, top:674, style:{text:'⇔⇨⇦ MotiveWave', fill:'#333', font:'11px ' + FONT}},
    {type:'text', left:8, top:716, style:{text:'Awesome Osc(34,5)', fill:'#111', font:'bold 11px ' + FONT}},
    {type:'text', left:1562, top:2, style:{text:'⇨⇩⇧', fill:'#9a9a9a', font:'14px "DejaVu Sans"'}},
    {type:'text', left:1576, top:673, style:{text:'⇧⇩', fill:'#9a9a9a', font:'13px "DejaVu Sans"'}},
    {type:'text', left:1576, top:712, style:{text:'⇧⊠', fill:'#9a9a9a', font:'13px "DejaVu Sans"'}},
    {type:'line', shape:{x1:1661.5, y1:0, x2:1661.5, y2:789}, style:{stroke:'#8a8a8a', lineWidth:1}}
  ]
};
chart.setOption(option);
</script>
</body></html>
